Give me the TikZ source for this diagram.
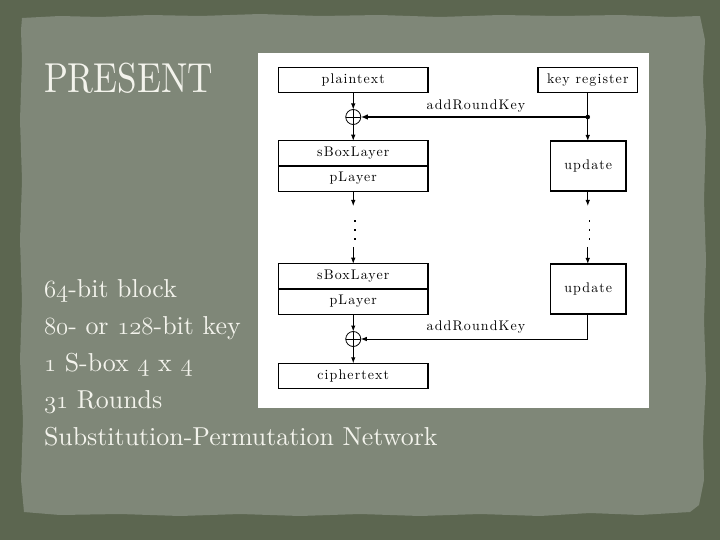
\documentclass[tikz,border=0pt]{standalone}
\usepackage{graphicx}
\usepackage{fontspec}
\usetikzlibrary{arrows.meta}
\newfontfamily\diagfont{lmroman10-regular.otf}[LetterSpace=8]
\newfontfamily\slidefont{lmroman10-regular.otf}
\definecolor{outerbg}{HTML}{5C6650}
\definecolor{panelbg}{HTML}{7F8778}
\definecolor{slidetext}{HTML}{F3F3EC}
\newcommand\osnum[1]{{\fontencoding{OML}\fontfamily{cmm}\fontseries{m}\fontshape{it}\selectfont #1}}
\begin{document}
\begin{tikzpicture}[x=1bp,y=-1bp,
  every node/.style={inner sep=0pt, outer sep=0pt},
  dfont/.style={font=\fontsize{14}{16}\selectfont\diagfont},
  box/.style={draw, line width=1.3bp, minimum width=149.5bp, minimum height=25.5bp, dfont},
  ubox/.style={draw, line width=1.3bp, minimum width=75.5bp, minimum height=50bp, dfont},
  xorc/.style={draw, circle, line width=0.8bp, minimum size=15bp,
     path picture={\draw[line width=0.8bp] (path picture bounding box.north) -- (path picture bounding box.south)
                                           (path picture bounding box.west) -- (path picture bounding box.east);}},
  arr/.style={line width=1bp, -{Latex[length=6bp,width=4.5bp]}},
  thickarr/.style={line width=2.4bp, -{Latex[length=7bp,width=5.5bp]}},
  lbl/.style={dfont},
  stext/.style={anchor=base west, text=slidetext, font=\fontsize{26}{30}\selectfont\slidefont}
]
\useasboundingbox (0,0) rectangle (720,540);
\fill[outerbg] (0,0) rectangle (720,540);
\fill[panelbg] (22,18) -- (60,16) -- (100,17) -- (150,15) -- (200,16) -- (260,14) -- (320,16) -- (380,15)
  -- (440,17) -- (500,15) -- (560,16) -- (620,15) -- (670,17) -- (700,16)
  -- (705,40) -- (703,80) -- (706,130) -- (704,200) -- (706,260) -- (704,320) -- (706,380) -- (703,440)
  -- (704,480) -- (699,505)
  -- (690,512) -- (640,515) -- (590,513) -- (540,516) -- (480,514) -- (420,516) -- (360,514) -- (300,516)
  -- (240,514) -- (180,516) -- (120,514) -- (60,515) -- (24,512)
  -- (21,480) -- (23,420) -- (20,360) -- (22,300) -- (20,240) -- (22,180) -- (20,120) -- (22,60) -- (21,30) -- cycle;
\fill[white] (258,53) rectangle (649,408);

% title and text
\node[anchor=base west, text=slidetext, font=\fontsize{42}{42}\selectfont\slidefont] (title) at (44,93) {\scalebox{0.84}[1]{PRESENT}};
\node[stext] (t1) at (44,297) {\osnum{64}-bit block};
\node[stext] (t2) at (44,334) {\osnum{80}- or \osnum{128}-bit key};
\node[stext] (t3) at (44,371) {\osnum{1} S-box \osnum{4} x \osnum{4}};
\node[stext] (t4) at (44,408) {\osnum{31} Rounds};
\node[stext] (t5) at (44,445) {Substitution-Permutation Network};

% diagram boxes
\node[box] (pt) at (353.25,80) {plaintext};
\node[box, minimum width=99.5bp] (kr) at (587.75,80) {key register};
\node[box] (sb1) at (353.25,153.5) {sBoxLayer};
\node[box] (pl1) at (353.25,178.5) {pLayer};
\node[ubox] (u1) at (588.25,166) {update};
\node[box] (sb2) at (353.25,276.5) {sBoxLayer};
\node[box] (pl2) at (353.25,301.5) {pLayer};
\node[ubox] (u2) at (588.25,289) {update};
\node[box] (ct) at (353.25,376) {ciphertext};
\draw[line width=2bp] (sb1.south west) -- (sb1.south east);
\draw[line width=2bp] (sb2.south west) -- (sb2.south east);
\draw[line width=2bp] (u1.north east) -- (u1.south east);
\draw[line width=2bp] (u2.north east) -- (u2.south east);

\node[xorc] (x1) at (353.25,117) {};
\node[xorc] (x2) at (353.25,339) {};
\node[lbl] (ark1) at (476,106) {addRoundKey};
\node[lbl] (ark2) at (476,327) {addRoundKey};

% connectors
\draw[arr] (pt.south) -- (x1.north);
\draw[arr] (x1.south) -- (sb1.north);
\coordinate (dot) at (kr.south |- x1.east);
\draw[arr] (kr.south) -- (kr.south |- u1.north);
\fill (dot) circle (2.3bp);
\draw[thickarr] (dot) -- (x1.east);

\coordinate (la) at (353.25,206);
\coordinate (lb) at (353.25,247);
\draw[arr] (pl1.south) -- (la);
\draw[arr] (lb) -- (sb2.north);
\coordinate (ra) at (587.75,206);
\coordinate (rb) at (587.75,247);
\draw[arr] (u1.south -| kr.south) -- (ra);
\draw[arr] (rb) -- (rb |- u2.north);
\foreach \yy in {220,229,238} {
  \fill (354.4,\yy) rectangle ++(1.4,1.8);
  \fill (588.6,\yy) rectangle ++(1.4,1.8);
}

\draw[arr] (pl2.south) -- (x2.north);
\draw[arr] (x2.south) -- (ct.north);
\draw[arr] (u2.south -| kr.south) |- (x2.east);
\end{tikzpicture}
\end{document}
